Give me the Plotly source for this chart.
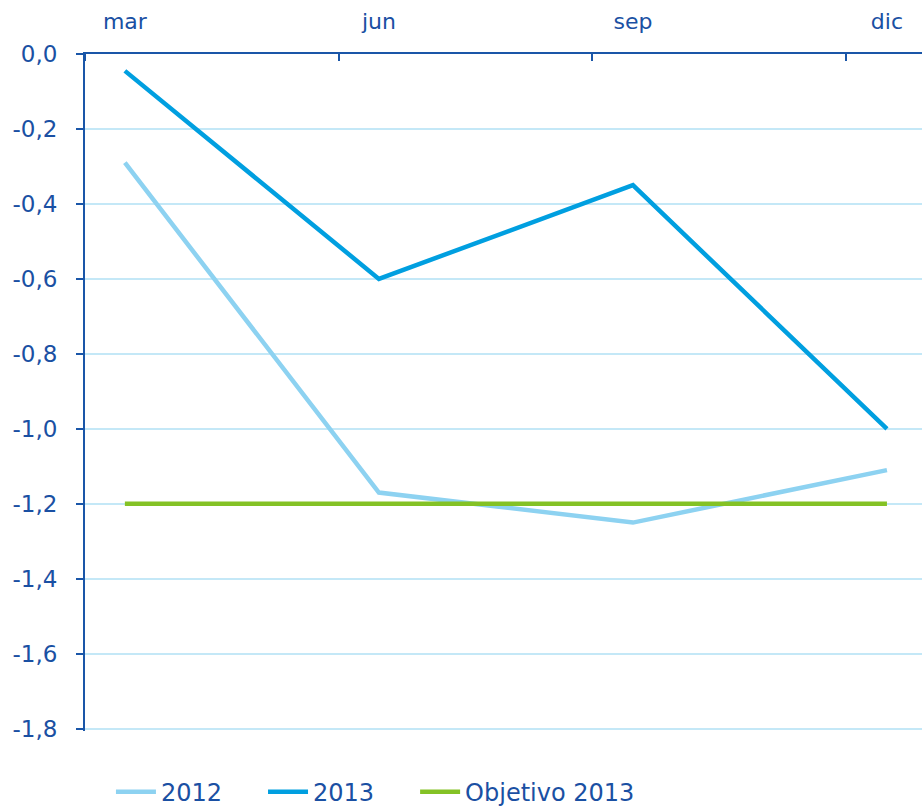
import plotly.graph_objects as go

categories = ["mar", "jun", "sep", "dic"]
serie_2012 = [-0.29, -1.17, -1.25, -1.11]
serie_2013 = [-0.045, -0.60, -0.35, -1.00]
objetivo_2013 = [-1.2, -1.2, -1.2, -1.2]
y_ticks = [0.0, -0.2, -0.4, -0.6, -0.8, -1.0, -1.2, -1.4, -1.6, -1.8]
y_labels = ["0,0", "-0,2", "-0,4", "-0,6", "-0,8", "-1,0", "-1,2", "-1,4", "-1,6", "-1,8"]
series_names = ["2012", "2013", "Objetivo 2013"]

xpos = list(range(len(categories)))
TEXT = "#1a50a3"
AXIS = "#1a56a8"
GRID = "#c4e8f7"
PAD = "\u2003\u2002"

fig = go.Figure()
fig.add_trace(go.Scatter(x=xpos, y=serie_2012, mode="lines", name=series_names[0] + PAD,
                         line=dict(color="#8dd2f1", width=4.5)))
fig.add_trace(go.Scatter(x=xpos, y=serie_2013, mode="lines", name=series_names[1] + PAD,
                         line=dict(color="#009fe0", width=4.5)))
fig.add_trace(go.Scatter(x=xpos, y=objetivo_2013, mode="lines", name=series_names[2],
                         line=dict(color="#84c225", width=4.5)))

fig.update_layout(
    width=922, height=808,
    margin=dict(l=85, r=0, t=54, b=77, autoexpand=False),
    plot_bgcolor="white", paper_bgcolor="white",
    font=dict(family="DejaVu Sans", size=22, color=TEXT),
    showlegend=True,
    legend=dict(orientation="h", x=0.031, xanchor="left", y=-0.057, yanchor="top",
                font=dict(size=24, color=TEXT), itemwidth=40, tracegroupgap=0),
    xaxis=dict(
        side="top", range=[-0.157, 3.138], automargin=False,
        tickmode="array", tickvals=xpos, ticktext=categories,
        ticks="", showgrid=False, zeroline=False,
        showline=True, linecolor=AXIS, linewidth=2,
        tickfont=dict(size=22, color=TEXT), ticklabelstandoff=14,
        minor=dict(tickmode="array", tickvals=[-0.157, 0.843, 1.84, 2.84],
                   ticks="inside", ticklen=7, tickwidth=2, tickcolor=AXIS, showgrid=False),
    ),
    yaxis=dict(
        range=[-1.806, 0.0], automargin=False,
        tickmode="array", tickvals=y_ticks, ticktext=y_labels,
        ticks="outside", ticklen=7, tickwidth=2, tickcolor=AXIS,
        showgrid=True, gridcolor=GRID, gridwidth=2, zeroline=False,
        showline=True, linecolor=AXIS, linewidth=2,
        tickfont=dict(size=23, color=TEXT), ticklabelstandoff=14,
    ),
)

fig.write_html("out.html", config={"displayModeBar": False},
               post_script="document.body.style.margin='0';")
